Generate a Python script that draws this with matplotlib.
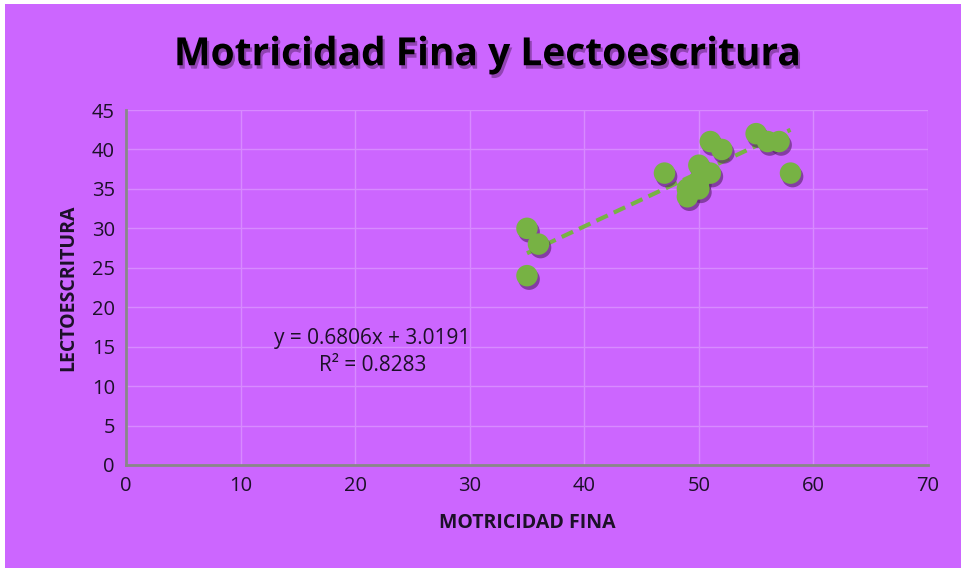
import numpy as np
import matplotlib.pyplot as plt
import matplotlib.patheffects as pe
from matplotlib.patches import Rectangle

# Data
motricidad = [35, 35, 36, 47, 49, 49, 50, 50, 50, 51, 51, 52, 55, 56, 57, 58]
lectoescritura = [30, 24, 28, 37, 35, 34, 38, 36, 35, 41, 37, 40, 42, 41, 41, 37]
xticks = [0, 10, 20, 30, 40, 50, 60, 70]
yticks = [0, 5, 10, 15, 20, 25, 30, 35, 40, 45]
slope, intercept = 0.6806, 3.0191
eq_text = "y = 0.6806x + 3.0191\nR² = 0.8283"

purple = "#CC66FF"
green = "#77B244"
txt = "#1C1028"

plt.rcParams["font.family"] = ["Open Sans", "DejaVu Sans"]

fig = plt.figure(figsize=(9.62, 5.76), dpi=100)
fig.patch.set_facecolor("white")
fig.patches.append(Rectangle((5 / 962, 8 / 576), 1, 1 - 12 / 576,
                             transform=fig.transFigure, facecolor=purple,
                             edgecolor="none", zorder=-10))

ax = fig.add_axes([126 / 962, 111 / 576, 802 / 962, 355 / 576])
ax.set_facecolor(purple)

ax.set_xlim(0, 70)
ax.set_ylim(0, 45)
ax.set_xticks(xticks)
ax.set_yticks(yticks)
ax.grid(True, color="#D88AFF", linewidth=1)
ax.set_axisbelow(True)
for s in ["top", "right"]:
    ax.spines[s].set_visible(False)
for s in ["left", "bottom"]:
    ax.spines[s].set_color("#888888")
    ax.spines[s].set_linewidth(2)
ax.tick_params(length=0, labelsize=14.5, colors=txt, pad=8)

# trendline
xs = np.array([min(motricidad), max(motricidad)])
ax.plot(xs, slope * xs + intercept, color=green, linestyle=(0, (3, 1.6)),
        linewidth=3, zorder=3)

# points with shadow
ax.scatter(motricidad, lectoescritura, s=240, color=green, zorder=4,
           edgecolors="none",
           path_effects=[pe.SimplePatchShadow(offset=(1.5, -2.5),
                                              shadow_rgbFace="#552266", alpha=0.6),
                         pe.Normal()])

ax.text(21.5, 14.3, eq_text, ha="center", va="center", fontsize=15,
        color=txt, linespacing=1.35)

ax.set_xlabel("MOTRICIDAD FINA", fontsize=14, fontweight="bold", color=txt,
              labelpad=12)
ax.set_ylabel("LECTOESCRITURA", fontsize=14, fontweight="bold", color=txt,
              labelpad=10)

fig.text(0.506, 0.905, "Motricidad Fina y Lectoescritura", ha="center",
         va="center", fontsize=28, fontweight="bold", color="black",
         path_effects=[pe.withSimplePatchShadow(offset=(1.5, -2.5),
                                                shadow_rgbFace="#552266",
                                                alpha=0.5)])

fig.savefig("out.png", dpi=100, facecolor=fig.get_facecolor())
